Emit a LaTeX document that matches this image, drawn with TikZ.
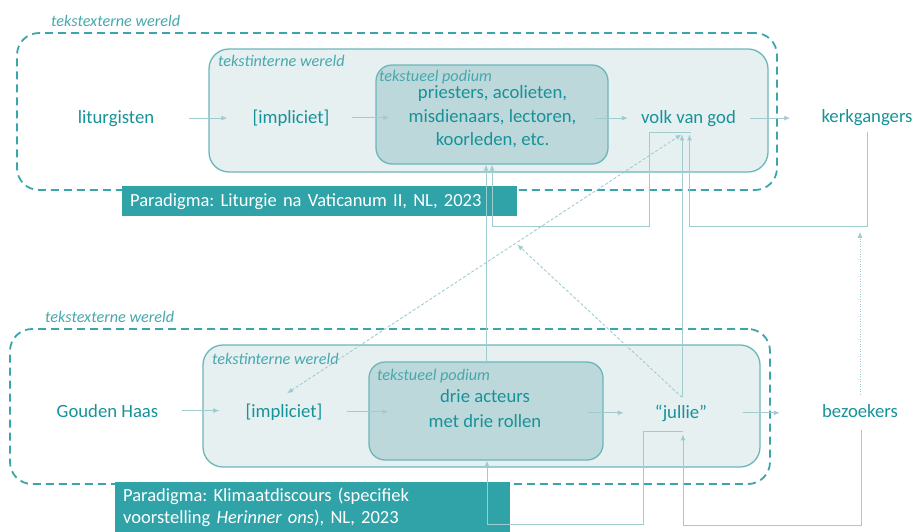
\documentclass[tikz,border=0pt]{standalone}
\usepackage{fontspec}
\setmainfont{Carlito}
\usetikzlibrary{arrows.meta,calc}
\frenchspacing

\definecolor{tealtext}{RGB}{22,146,153}
\definecolor{teallabel}{RGB}{70,168,173}
\definecolor{tealdash}{RGB}{58,166,171}
\definecolor{worldfill}{RGB}{230,240,241}
\definecolor{worlddraw}{RGB}{108,182,186}
\definecolor{podfill}{RGB}{188,216,219}
\definecolor{parafill}{RGB}{47,163,168}
\definecolor{connline}{RGB}{160,204,208}

\begin{document}
\begin{tikzpicture}[x=1pt,y=-1pt,>={Latex[length=6pt,width=5pt]},
  extworld/.style={draw=tealdash,line width=1.8pt,dash pattern=on 8pt off 5pt,rounded corners=22pt},
  intworld/.style={draw=worlddraw,fill=worldfill,line width=1.3pt,rounded corners=20pt},
  podium/.style={draw=worlddraw,fill=podfill,line width=1.3pt,rounded corners=16pt},
  worldlabel/.style={text=teallabel,font=\fontsize{16.2}{19}\selectfont\itshape,inner sep=0pt,anchor=base west},
  actor/.style={text=tealtext,font=\fontsize{18.7}{22}\selectfont,inner sep=0pt,anchor=base},
  podtext/.style={text=tealtext,align=center,inner sep=0pt},
  paradigm/.style={fill=parafill,text=white,font=\fontsize{18.5}{22}\selectfont,align=left,anchor=north west,inner xsep=8pt,text width=379pt},
  conn/.style={draw=connline,line width=1pt,->},
  dashconn/.style={draw=connline,line width=0.9pt,dash pattern=on 3pt off 2pt},
  dotconn/.style={draw=connline,line width=0.8pt,dash pattern=on 1pt off 1.5pt,->}
]
\useasboundingbox (0,0) rectangle (916,531);

% worlds
\node[extworld,minimum width=760,minimum height=157] (extA) at (397,111.5) {};
\node[intworld,minimum width=559,minimum height=123] (intA) at (488.5,110.5) {};
\node[podium,minimum width=232,minimum height=99] (podA) at (492,114.5) {};
\node[extworld,minimum width=760,minimum height=155] (extB) at (390,406.5) {};
\node[intworld,minimum width=557,minimum height=122] (intB) at (481.5,406) {};
\node[podium,minimum width=234,minimum height=98] (podB) at (486,411) {};

\node[worldlabel] (extAlab) at (51,26) {tekstexterne wereld};
\node[worldlabel] (intAlab) at (218,66) {tekstinterne wereld};
\node[worldlabel] (podAlab) at (379,81) {tekstueel podium};
\node[worldlabel] (extBlab) at (45,322) {tekstexterne wereld};
\node[worldlabel] (intBlab) at (212,364) {tekstinterne wereld};
\node[worldlabel] (podBlab) at (377,380) {tekstueel podium};

% liturgie
\node[actor] (lit) at (116,123) {liturgisten};
\node[actor] (implA) at (291,123) {[impliciet]};
\node[podtext,font=\fontsize{18.7}{23.5}\selectfont] (podtxtA) at (492.5,117) {priesters, acolieten,\\misdienaars, lectoren,\\koorleden, etc.};
\node[actor] (volk) at (688.5,123) {volk van god};
\node[actor] (kerk) at (867,122.5) {kerkgangers};
\node[paradigm,minimum height=30] (parA) at (122,186) {Paradigma: Liturgie na Vaticanum II, NL, 2023};

% klimaat
\node[actor] (haas) at (107.5,417) {Gouden Haas};
\node[actor] (implB) at (284,417) {[impliciet]};
\node[podtext,font=\fontsize{18.7}{25.5}\selectfont] (podtxtB) at (485,408.5) {drie acteurs\\met drie rollen};
\node[actor] (jullie) at (681,418) {“jullie”};
\node[actor] (bez) at (860,417) {bezoekers};
\node[paradigm,inner ysep=6pt] (parB) at (115,482) {Paradigma: Klimaatdiscours (specifiek\\voorstelling \textit{Herinner ons}), NL, 2023};

% flow
\draw[conn,shorten <=35pt,shorten >=25pt] (lit.east) -- (lit.east -| implA.west);
\draw[conn,shorten <=22pt,shorten >=19pt] (implA.east) -- (implA.east -| podtxtA.west);
\draw[conn,shorten <=18pt,shorten >=13pt] (podtxtA.east |- volk.west) -- (volk.west);
\draw[conn,shorten <=14pt,shorten >=31pt] (volk.east) -- (volk.east -| kerk.west);
\draw[conn,shorten <=24pt,shorten >=26pt] (haas.east) -- (haas.east -| implB.west);
\draw[conn,shorten <=24pt,shorten >=40pt] (implB.east) -- (implB.east -| podtxtB.west);
\draw[conn,shorten <=46pt,shorten >=31pt] (podtxtB.east |- jullie.west) -- (jullie.west);
\draw[conn,shorten <=36pt,shorten >=42pt] (jullie.east) -- (jullie.east -| bez.west);

% links
\coordinate (volkIn) at ($(volk.south)+(-7,8)$);
\coordinate (julTop) at ($(jullie.north)+(1,-7)$);
\draw[conn] ($(volk.south)+(2,6)$) -- ++(-41,0) -- ++(0,94) -| (podA.south);
\draw[conn] ($(kerk.south)+(0,6)$) -- ++(0,95) coordinate (kerkKnee) -| ($(volk.south)+(1,8)$);
\draw[conn] (podB.north) -- (podB.north |- podA.south);
\draw[conn] (julTop) -- (julTop |- volkIn);
\draw[dashconn,<->] ($(implB.north)+(3,-10)$) -- coordinate[pos=0.58] (diagMid) (volkIn);
\draw[dashconn,->,shorten >=2pt] (julTop) -- (diagMid);
\draw[conn] ($(jullie.south)+(2,10)$) -- ++(-40,0) -- ++(0,93) -| ($(podB.south)+(1,0)$);
\draw[conn] ($(bez.south)+(1,13)$) -- ++(0,95) -| ($(jullie.south)+(2,13)$);
\draw[dotconn] ($(bez.north)+(0,-9)$) -- ($(bez.north |- kerkKnee)+(0,5)$);

\end{tikzpicture}
\end{document}
